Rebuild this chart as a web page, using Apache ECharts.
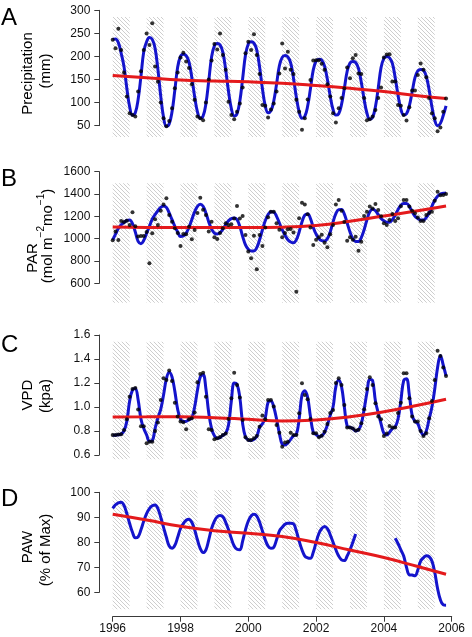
<!DOCTYPE html>
<html><head><meta charset="utf-8">
<script src="https://cdn.jsdelivr.net/npm/echarts@6/dist/echarts.min.js"></script>
<style>html,body{margin:0;padding:0;background:#fff}#c{width:472px;height:637px}</style>
</head><body><div id="c"></div>
<script>
const FONT = '"Liberation Sans", Arial, Helvetica, sans-serif';

// ---- data (monthly, Jan 1996 .. Nov 2005) ----
const startYear = 1996;
const hatchYears = [1996,1997,1998,1999,2000,2001,2002,2003,2004,2005];
const hatchLength = 0.5;
const xTicks = [1996, 2006, 2];
const trendYears = [1996,1997,1998,1999,2000,2001,2002,2003,2004,2005,2005.833];

const precipDots = [236,218,260,214,165,113,77,73,70,124,168,214,
 250,225,272,178,145,100,66,49,60,88,131,165,
 198,208,189,175,140,106,70,66,62,100,150,191,
 227,215,250,203,171,102,73,64,80,98,133,207,
 232,214,248,203,162,95,93,68,85,98,124,163,
 228,174,210,171,162,106,80,41,66,107,149,191,
 192,192,184,171,140,113,77,57,88,110,131,176,
 153,196,203,163,162,110,62,64,70,84,110,133,
 198,204,205,146,146,95,93,73,61,90,126,126,
 160,185,171,155,110,77,66,38,46,80,109];
const precipFit = [237,238,230,207,178,131,91,73,78,107,157,211,
 232,241,237,218,172,114,68,49,54,80,127,177,
 200,205,202,188,155,113,80,66,71,98,147,199,
 223,228,225,209,171,124,87,71,76,103,152,203,
 227,232,229,214,177,130,93,78,82,103,140,180,
 198,202,199,186,153,112,80,66,70,92,130,171,
 190,194,192,179,150,114,85,73,76,96,131,168,
 186,189,187,174,144,107,77,64,68,91,132,176,
 196,200,197,185,154,116,86,73,76,93,123,154,
 169,172,170,157,128,91,62,50,55,72,93];
const precipTrend = [159,154,149,147,145,142,137,131,124,115,109];

const parDots = [985,1063,988,1158,1150,1160,1122,1236,1110,1020,1024,1024,
 1060,779,1048,1173,1122,1250,1307,1361,1212,1152,1093,1050,
 934,1042,1040,1107,994,1078,1230,1367,1260,1212,1063,1152,
 1012,997,1050,1093,1137,1122,1128,1180,1293,1180,1203,1033,
 884,824,1027,725,1033,934,1100,1191,1242,1242,1137,1080,
 1012,1050,1084,1087,1054,525,1182,1322,1307,1218,1100,943,
 990,1012,1036,964,922,1040,1122,1307,1346,1251,1150,982,
 1012,990,1018,892,973,1203,1240,1287,1270,1310,1257,1200,
 1137,1122,1167,1221,1158,1182,1290,1346,1346,1287,1250,1227,
 1190,1158,1158,1212,1230,1242,1340,1421,1390,1391,1400];
const parFit = [988,1040,1090,1125,1145,1163,1167,1135,1060,975,955,985,
 1048,1110,1175,1215,1250,1280,1293,1280,1230,1170,1110,1060,
 1020,1025,1050,1100,1170,1240,1290,1308,1290,1230,1150,1085,
 1050,1042,1055,1085,1125,1160,1180,1185,1170,1110,1020,945,
 905,890,890,920,990,1080,1160,1215,1240,1238,1200,1140,
 1080,1030,990,970,964,990,1060,1150,1210,1220,1180,1100,
 1040,1000,982,979,1000,1060,1150,1225,1260,1262,1220,1140,
 1060,1000,975,975,1010,1080,1170,1240,1263,1250,1215,1180,
 1160,1148,1148,1170,1210,1260,1300,1315,1315,1290,1240,1200,
 1180,1168,1167,1190,1230,1290,1345,1380,1400,1406,1410];
const parTrend = [1104,1101,1100,1100,1100,1103,1118,1155,1203,1250,1293];

const vpdDots = [0.767,0.767,0.770,0.772,0.808,0.897,1.086,1.150,1.158,0.980,0.840,0.840,
 0.697,0.711,0.711,0.800,0.870,1.058,1.239,1.225,1.303,1.217,1.036,0.920,
 0.880,0.872,0.814,0.897,0.906,0.953,1.206,1.275,1.286,1.086,0.814,0.808,
 0.731,0.739,0.750,0.767,0.780,0.900,1.072,1.286,1.183,1.078,0.892,0.747,
 0.725,0.725,0.740,0.758,0.836,0.930,0.897,1.058,1.058,1.003,0.850,0.786,
 0.669,0.703,0.711,0.786,0.767,0.767,0.947,1.197,1.100,1.064,0.900,0.781,
 0.781,0.747,0.760,0.794,0.858,0.950,0.975,1.200,1.239,1.183,1.017,0.830,
 0.830,0.820,0.803,0.810,0.864,0.981,1.150,1.247,1.183,1.031,0.920,0.897,
 0.758,0.780,0.842,0.830,0.830,0.950,1.036,1.281,1.281,1.072,0.920,0.878,
 0.878,0.800,0.758,0.781,0.906,1.050,1.225,1.469,1.425,1.330,1.258];
const vpdFit = [0.765,0.765,0.768,0.775,0.80,0.88,1.05,1.14,1.155,1.06,0.90,0.82,
 0.767,0.715,0.72,0.82,0.91,0.98,1.10,1.235,1.29,1.25,1.13,0.98,
 0.90,0.878,0.88,0.895,0.91,1.00,1.14,1.25,1.27,1.15,0.95,0.82,
 0.76,0.74,0.745,0.765,0.78,0.85,1.05,1.20,1.19,1.08,0.86,0.75,
 0.725,0.72,0.73,0.755,0.83,0.86,0.91,1.04,1.05,1.00,0.90,0.78,
 0.69,0.683,0.70,0.73,0.76,0.77,0.90,1.10,1.135,1.08,0.92,0.79,
 0.77,0.755,0.76,0.79,0.85,0.93,1.00,1.17,1.225,1.17,1.00,0.84,
 0.83,0.82,0.80,0.81,0.86,0.98,1.12,1.23,1.22,1.05,0.95,0.86,
 0.78,0.767,0.79,0.82,0.835,0.90,1.05,1.22,1.235,1.10,0.93,0.88,
 0.86,0.80,0.767,0.80,0.90,1.00,1.15,1.33,1.43,1.35,1.26];
const vpdTrend = [0.917,0.918,0.919,0.911,0.897,0.883,0.892,0.919,0.961,1.014,1.064];

const pawFit = [93.6,95,95.8,96,94.8,91.5,87.5,84,81.8,82.2,85,88.5,
 91.5,93.5,94.6,94.9,93.5,90,86,82,78.5,77.6,78.8,82,
 85.5,87.5,88.8,89.2,88,85,81,77.5,75.9,77,81,85.5,
 88.5,90.2,90.7,90.2,88,85,81.5,78.5,77.2,77,80.5,85,
 88.5,90.5,91.2,90.5,88,84.5,81,78.5,77.6,78,81,84.5,
 86,87.2,87.6,87.6,87.4,84.5,80.5,77,74.5,73.8,73.6,76,
 80,83.5,85.5,86.3,85.5,83,80,77,74.5,73,72.7,74.5,
 77,80,83.3,null,null,null,null,null,null,null,null,null,
 null,null,null,null,81.6,79.5,77,74.5,70,67,66.9,66.6,
 68.9,72.5,73.8,74.6,74.3,72.5,68,61.5,57,55,54.8];
const pawTrend = [91.2,88.9,86.4,84.6,83.6,82.3,79.9,76.9,73.9,70.3,67.2];

const yTicksA = [50, 300, 50];
const yTicksB = [600, 1600, 200];
const yTicksC = [0.6, 1.6, 0.2];
const yTicksD = [60, 100, 10];

// ---- layout ----
const panels = [
  {dots: precipDots, fit: precipFit, trend: precipTrend, ticks: yTicksA, dec: 0,
   top: 17, bottom: 137, usr: [25.5, 285.5], tTop: 10.3, tBot: 125.7},
  {dots: parDots, fit: parFit, trend: parTrend, ticks: yTicksB, dec: 0,
   top: 183.3, bottom: 302.7, usr: [426, 1496], tTop: 171.7, tBot: 283.3},
  {dots: vpdDots, fit: vpdFit, trend: vpdTrend, ticks: yTicksC, dec: 1,
   top: 341.7, bottom: 459.3, usr: [0.564, 1.544], tTop: 335, tBot: 455},
  {dots: null, fit: pawFit, trend: pawTrend, ticks: yTicksD, dec: 0,
   top: 490, bottom: 609.3, usr: [53.2, 100.92], tTop: 492.3, tBot: 592.3}
];
const X0 = 112.7, XW = 339, YAX = 99.3;
const BLUE = '#1414cc', RED = '#e41a1c', AX = '#3a3a3a';

function hatchCanvas() {
  const c = document.createElement('canvas');
  c.width = 4; c.height = 4;
  const g = c.getContext('2d');
  g.strokeStyle = '#bdbdbd'; g.lineWidth = 0.75;
  for (const k of [-4, 0, 4]) { g.beginPath(); g.moveTo(k - 1, -1); g.lineTo(k + 5, 5); g.stroke(); }
  return c;
}
const hatchPattern = {image: hatchCanvas(), repeat: 'repeat'};
const bands = hatchYears.map(y => [{xAxis: y}, {xAxis: y + hatchLength}]);
const monthX = i => startYear + i / 12;

const grid = [], xAxis = [], yAxis = [], series = [];
panels.forEach((p, i) => {
  grid.push({left: X0, top: p.top, width: XW, height: p.bottom - p.top, outerBoundsMode: 'none', containLabel: false});
  const isLast = i === panels.length - 1;
  xAxis.push({gridIndex: i, type: 'value', min: xTicks[0], max: xTicks[1], interval: xTicks[2],
    show: isLast, offset: isLast ? 616.7 - p.bottom : 0,
    axisLine: {show: true, lineStyle: {color: AX, width: 1}},
    axisTick: {show: true, length: 5, lineStyle: {color: AX}},
    axisLabel: {show: true, fontSize: 12, fontFamily: FONT, color: '#111', margin: 6,
      formatter: v => String(Math.round(v))},
    splitLine: {show: false}});
  yAxis.push({gridIndex: i, type: 'value', min: p.usr[0], max: p.usr[1], show: false, splitLine: {show: false}});
});
panels.forEach((p, i) => {
  grid.push({left: YAX, top: p.tTop, width: 5, height: p.tBot - p.tTop, outerBoundsMode: 'none', containLabel: false});
  xAxis.push({gridIndex: 4 + i, type: 'value', min: 0, max: 1, show: false});
  yAxis.push({gridIndex: 4 + i, type: 'value', min: p.ticks[0], max: p.ticks[1], interval: p.ticks[2],
    axisLine: {show: true, lineStyle: {color: AX, width: 1}},
    axisTick: {show: true, length: 5, lineStyle: {color: AX}},
    axisLabel: {fontSize: 12, fontFamily: FONT, color: '#111', margin: 9,
      formatter: v => v.toFixed(p.dec)},
    splitLine: {show: false}});
});

panels.forEach((p, i) => {
  const trendData = p.trend.map((v, k) => [trendYears[k], v]);
  series.push({type: 'line', xAxisIndex: i, yAxisIndex: i, data: trendData, symbol: 'none', silent: true,
    lineStyle: {opacity: 0, width: 0}, z: 1,
    markArea: {silent: true, itemStyle: {color: hatchPattern, borderWidth: 0}, data: bands}});
  series.push({type: 'line', xAxisIndex: i, yAxisIndex: i, data: p.fit.map((v, k) => [monthX(k), v]),
    smooth: 0.4, symbol: 'none', connectNulls: false, lineStyle: {color: BLUE, width: 3}, z: 3});
  series.push({type: 'line', xAxisIndex: i, yAxisIndex: i, data: trendData,
    smooth: 0.5, symbol: 'none', lineStyle: {color: RED, width: 3}, z: 4});
  if (p.dots) series.push({type: 'scatter', xAxisIndex: i, yAxisIndex: i,
    data: p.dots.map((v, k) => [monthX(k), v]), symbolSize: 4, itemStyle: {color: '#000'}, z: 5});
});

function txt(text, x, y, size, rot, align) {
  return {type: 'text', x, y, rotation: rot ? Math.PI / 2 : 0, silent: true,
    style: {text, fontSize: size, fontFamily: FONT, fill: '#000',
      align: align || 'center', verticalAlign: 'middle', textAlign: align || 'center', textVerticalAlign: 'middle'}};
}
const graphic = [
  txt('A', 1, 18.5, 24, false, 'left'),
  txt('B', 1, 179.5, 24, false, 'left'),
  txt('C', 1, 345.5, 24, false, 'left'),
  txt('D', 1, 499, 24, false, 'left'),
  txt('Precipitation', 27.5, 73.5, 15, true),
  txt('(mm)', 45.5, 71, 15, true),
  txt('PAR', 32.5, 258, 15, true),
  {type: 'text', x: 48, y: 236, rotation: Math.PI / 2, silent: true,
   style: {text: '{a|(mol m}{s|−2}{a|mo}{s|−1}{a|)}', fill: '#000',
     align: 'center', verticalAlign: 'middle', textAlign: 'center', textVerticalAlign: 'middle',
     rich: {a: {fontSize: 15, fontFamily: FONT, lineHeight: 24, fill: '#000'},
            s: {fontSize: 10, fontFamily: FONT, lineHeight: 11, verticalAlign: 'top', fill: '#000'}}}},
  txt('VPD', 27.5, 395, 15, true),
  txt('(kpa)', 45.5, 396, 15, true),
  txt('PAW', 27.5, 547, 15, true),
  txt('(% of Max)', 45.5, 550, 15, true)
];

const chart = echarts.init(document.getElementById('c'), null, {renderer: 'canvas'});
chart.setOption({animation: false, backgroundColor: '#fff', grid, xAxis, yAxis, series, graphic});
</script></body></html>
